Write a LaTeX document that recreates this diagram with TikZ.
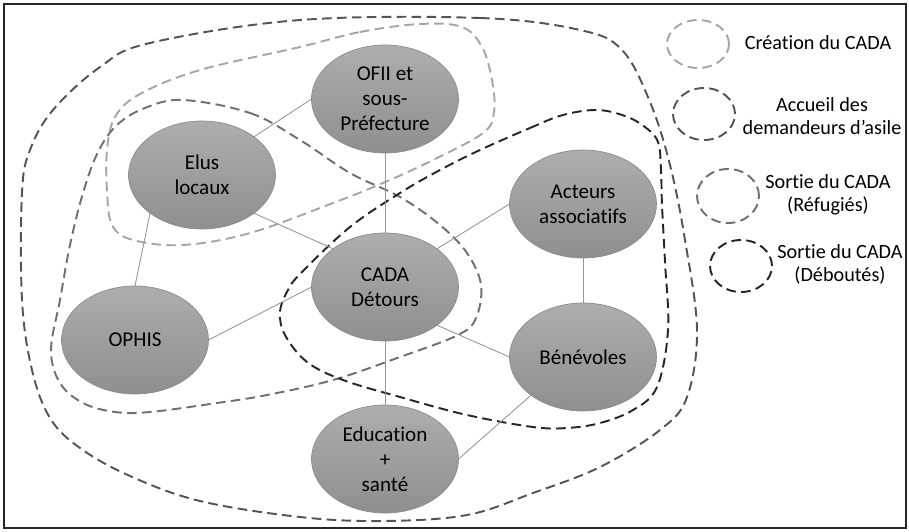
\documentclass[tikz,border=0pt]{standalone}
\usepackage{fontspec}
\setmainfont{Carlito}[Ligatures={NoCommon}]
\usetikzlibrary{shapes.geometric}
\definecolor{lightdash}{RGB}{166,166,166}
\definecolor{middash}{RGB}{112,112,112}
\definecolor{darkdash}{RGB}{84,84,84}
\definecolor{blackdash}{RGB}{38,38,38}
\definecolor{linkgray}{RGB}{150,150,150}

\begin{document}
\begin{tikzpicture}[x=0.02cm, y=-0.02cm,
  actor/.style={ellipse, draw=black!45, line width=0.4pt, top color=black!32,
    bottom color=black!44, minimum width=2.94cm, minimum height=2.16cm,
    inner sep=0pt, outer sep=0pt, align=center, font=\fontsize{12}{14.2}\selectfont},
  link/.style={draw=linkgray, line width=0.5pt},
  zone/.style={line width=1.1pt, dash pattern=on 5.5pt off 3pt},
  ring/.style={ellipse, zone, minimum width=1.24cm, minimum height=1.0cm, inner sep=0pt},
  keytext/.style={align=center, font=\fontsize{11.5}{13}\selectfont}]
  \useasboundingbox (0,0) rectangle (909,531);
  \draw[black!85, line width=1.1pt] (4,4) rectangle (906,528);

  % zones
  \draw[zone, darkdash] plot[smooth cycle, tension=0.6] coordinates {
    (300,20) (480,18) (580,30) (622,50) (650,102) (670,165) (685,240) (697,330)
    (687,397) (660,430) (600,467) (533,493) (467,515) (383,521) (300,517)
    (200,501) (130,476) (80,448) (50,418) (32,370) (22,300) (22,193) (30,150)
    (53,110) (100,67) (150,43)};
  \draw[zone, lightdash] plot[smooth cycle, tension=0.6] coordinates {
    (300,47) (360,32) (420,24) (462,27) (482,47) (492,80) (494,112) (483,133)
    (433,160) (383,183) (333,203) (250,233) (183,245) (133,240) (112,225)
    (107,190) (107,150) (115,117) (140,94) (200,70)};
  \draw[zone, middash] plot[smooth cycle, tension=0.6] coordinates {
    (183,100) (250,113) (300,140) (350,173) (400,197) (440,225) (467,253)
    (481,285) (476,318) (458,335) (400,357) (333,380) (267,395) (217,403)
    (150,412) (115,412) (83,403) (60,383) (51,350) (60,300) (70,245) (83,193)
    (98,152) (117,125) (145,108)};
  \draw[zone, blackdash] plot[smooth cycle, tension=0.6] coordinates {
    (480,150) (530,128) (563,115) (597,110) (625,116) (645,127) (658,142)
    (661,170) (662,205) (665,262) (668,330) (657,387) (633,410) (600,423)
    (567,428) (533,427) (467,415) (400,397) (343,380) (307,362) (285,335)
    (280,312) (288,290) (302,272) (350,227) (400,193) (440,170)};

  % actors
  \node[actor] (ofii) at (385,99) {OFII et\\sous-\\Préfecture};
  \node[actor] (elus) at (202,175) {Elus\\locaux};
  \node[actor] (cada) at (385,287) {CADA\\Détours};
  \node[actor] (assoc) at (583,204) {Acteurs\\associatifs};
  \node[actor] (ophis) at (135,340) {OPHIS};
  \node[actor] (benev) at (583,357) {Bénévoles};
  \node[actor] (educ) at (385,459) {Education\\+\\santé};

  \draw[link] (elus.north east) -- (ofii.west);
  \draw[link] (ofii.south) -- (cada.north);
  \draw[link] (elus.south east) -- (cada.north west);
  \draw[link] (elus.south west) -- (ophis.north);
  \draw[link] (ophis.east) -- (cada.west);
  \draw[link] (cada.north east) -- (assoc.west);
  \draw[link] (cada.south east) -- (benev.west);
  \draw[link] (cada.south) -- (educ.north);
  \draw[link] (assoc.south) -- (benev.north);
  \draw[link] (benev.south west) -- (educ.east);

  % legend
  \node[ring, draw=lightdash, minimum height=0.96cm] (keycrea) at (698,44) {};
  \node[ring, draw=darkdash, minimum height=1.04cm] (keyacc) at (704,114) {};
  \node[ring, draw=middash, minimum height=1.08cm] (keyref) at (728,196) {};
  \node[ring, draw=blackdash, minimum height=1.04cm] (keydeb) at (741,266) {};
  \node[keytext] (txtcrea) at (818,43) {Création du CADA};
  \node[keytext] (txtacc) at (822,116) {Accueil des\\demandeurs d’asile};
  \node[keytext] (txtref) at (828,195) {Sortie du CADA\\(Réfugiés)};
  \node[keytext] (txtdeb) at (840,264) {Sortie du CADA\\(Déboutés)};
\end{tikzpicture}
\end{document}
